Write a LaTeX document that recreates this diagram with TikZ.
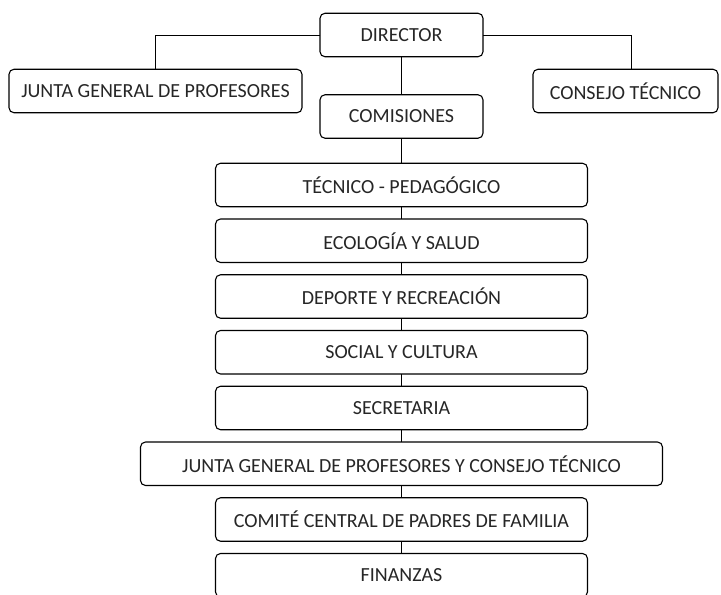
\documentclass[tikz,border=0pt]{standalone}
\usepackage{fontspec}
\setmainfont{Carlito}
\usetikzlibrary{positioning}

\begin{document}
\begin{tikzpicture}[%
    x=1pt, y=1pt,
    node distance = 12.25pt,
    basic/.style={draw,line width=1.1pt,rounded corners=5pt,fill=white,outer sep=0pt,
        minimum height=43.5pt,inner sep=2pt,font=\fontsize{20}{22}\selectfont,
        text=black!85,text badly centered},
    jefe/.style={basic,minimum width=163pt},
    lado/.style={basic,minimum width=293pt},
    comision/.style={basic,minimum width=372pt},
    ancho/.style={basic,minimum width=522pt},
    enlace/.style={line width=0.8pt}
]
        \useasboundingbox (0,0) rectangle (721,-595);
        \node[jefe] (director) at (401.5,-35) {DIRECTOR};
        \node[lado] (junta) at (155.5,-91) {JUNTA GENERAL DE PROFESORES};
        \node[basic,minimum width=185pt] (consejo) at (625.5,-91) {CONSEJO T\'ECNICO};
        \node[jefe, below = 38pt of director] (comisiones) {COMISIONES};
        
        \node[comision, below = 25pt of comisiones] (tecnico) {T\'ECNICO - PEDAG\'OGICO};
        \node[comision, below = of tecnico] (ecologia) {ECOLOG\'IA Y SALUD};
        \node[comision, below = of ecologia] (deporte) {DEPORTE Y RECREACI\'ON};
        \node[comision, below = of deporte] (social) {SOCIAL Y CULTURA};
        \node[comision, below = of social] (secretaria) {SECRETARIA};
        \node[ancho, below = of secretaria] (juntaconsejo) {JUNTA GENERAL DE PROFESORES Y CONSEJO T\'ECNICO};
        \node[comision, below = of juntaconsejo] (comite) {COMIT\'E CENTRAL DE PADRES DE FAMILIA};
        \node[comision, below = of comite] (finanzas) {FINANZAS};
        
        \path[draw,enlace] (director.west) -| (junta.north);
        \path[draw,enlace] (director.east) -| ([xshift=5.5pt]consejo.north);
        \path[draw,enlace] (director) -- (comisiones);
        
        \foreach \a/\b in {comisiones/tecnico, tecnico/ecologia, ecologia/deporte,
            deporte/social, social/secretaria, secretaria/juntaconsejo,
            juntaconsejo/comite, comite/finanzas}
            \path[draw,enlace] (\a.south) -- (\b.north);
\end{tikzpicture}
\end{document}
